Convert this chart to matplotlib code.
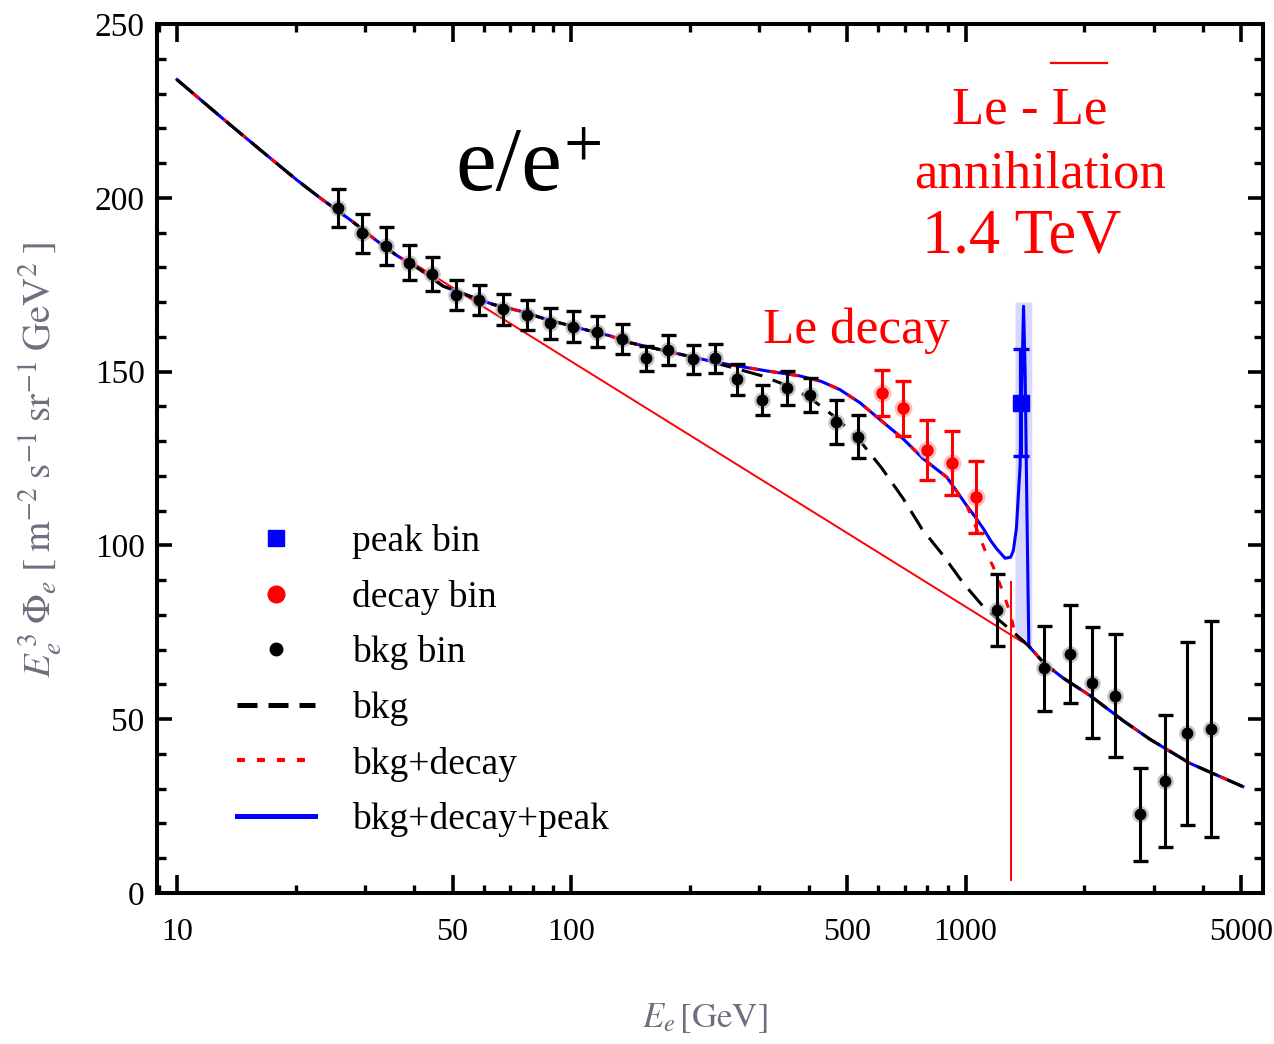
import matplotlib
matplotlib.use("Agg")
import matplotlib.pyplot as plt
from matplotlib.lines import Line2D
from matplotlib.ticker import FixedLocator, LogLocator, NullFormatter, FixedFormatter

plt.rcParams['font.family'] = ['Liberation Serif', 'DejaVu Serif']
plt.rcParams['mathtext.fontset'] = 'stix'

# ---------------- data ----------------
# background-only bins (energy in GeV, E^3 flux, symmetric error)
bkg_bin_E = [25.6, 29.4, 33.9, 38.8, 44.4, 50.9, 58.4, 67.0, 77.1, 88.3, 101.2,
             116, 134.3, 154.7, 176.2, 203.9, 231.4, 263.7, 304, 351.8, 403,
             468.4, 534.6, 1199, 1583, 1840, 2088, 2393, 2769, 3204, 3650, 4183]
bkg_bin_F = [197.0, 189.8, 186.1, 181.3, 178.0, 172.0, 170.6, 167.9, 166.3, 163.9,
             162.9, 161.5, 159.3, 153.8, 156.2, 153.5, 153.8, 147.8, 141.8, 145.2,
             143.3, 135.6, 131.3, 81.4, 64.6, 68.8, 60.5, 56.7, 22.6, 32.2, 45.9, 47.1]
bkg_bin_err = [5.5, 5.6, 5.5, 5.0, 4.9, 4.3, 4.3, 4.4, 4.4, 4.5, 4.5, 4.4, 4.3,
               3.7, 4.3, 4.2, 4.2, 4.4, 4.4, 4.9, 5.0, 6.3, 6.2, 10.3, 12.2, 14.0,
               15.9, 17.7, 13.5, 19.0, 26.2, 31.1]

# bins with a decay excess
decay_bin_E = [612.8, 695, 797, 922, 1063]
decay_bin_F = [143.8, 139.4, 127.4, 123.6, 114.0]
decay_bin_err = [6.7, 8.0, 8.6, 9.2, 10.4]

# annihilation peak bin
peak_bin_E = [1382]
peak_bin_F = [141.1]
peak_bin_err = [15.3]

# model curves
bkg_E = [10, 13, 16.5, 20.2, 23.05, 27.7, 31.8, 36.1, 41.3, 47.3, 55.3, 63.4, 74.2,
         86.6, 107.3, 125.3, 141, 188.7, 230, 263, 304, 352, 403, 468, 535, 612,
         695, 774, 877, 988, 1110, 1230, 1334, 1446, 1583, 1769, 2067, 2513, 2936,
         3707, 5047]
bkg_F = [234, 223, 213.2, 205.0, 200.0, 193.4, 188.0, 183.4, 179.4, 174.6, 171.7, 169.3,
         167.4, 165.0, 162.2, 160.3, 158.3, 155.0, 152.6, 150.8, 148.8, 146.0, 142.4,
         136.8, 130.6, 122.3, 113.4, 104.8, 97.1, 89.0, 82.3, 78.0, 74.6, 71.0, 66.0,
         61.8, 56.8, 49.5, 44.2, 37.3, 30.6]

decay_E = [10, 13, 16.5, 20.2, 23.05, 27.7, 31.8, 36.1, 41.3, 47.3, 55.3, 63.4, 74.2,
           86.6, 107.3, 125.3, 141, 188.7, 230, 258, 313, 378, 430, 480, 540, 618,
           695, 781, 896, 1007, 1060, 1120, 1174, 1242, 1298, 1334, 1446, 1583, 1769,
           2067, 2513, 2936, 3707, 5047]
decay_F = [234, 223, 213.2, 205.0, 200.0, 193.4, 188.0, 183.4, 179.4, 174.6, 171.7, 169.3,
           167.4, 165.0, 162.2, 160.3, 158.3, 155.0, 152.8, 151.8, 150.2, 148.8, 147.2,
           144.8, 141.0, 135.4, 130.6, 124.9, 119.6, 111.4, 105.5, 98.5, 93.9, 86.7,
           80.4, 74.6, 71.0, 66.0, 61.8, 56.8, 49.5, 44.2, 37.3, 30.6]

peak_E = [10, 13, 16.5, 20.2, 23.05, 27.7, 31.8, 36.1, 41.3, 47.3, 55.3, 63.4, 74.2,
          86.6, 107.3, 125.3, 141, 188.7, 230, 258, 313, 378, 430, 480, 540, 618,
          695, 781, 896, 1007, 1060, 1109, 1160, 1199, 1259, 1300, 1321, 1345, 1374,
          1390, 1402, 1415, 1430, 1446, 1583, 1769, 2067, 2513, 2936, 3707, 5047]
peak_F = [234, 223, 213.2, 205.0, 200.0, 193.4, 188.0, 183.4, 179.4, 174.6, 171.7, 169.3,
          167.4, 165.0, 162.2, 160.3, 158.3, 155.0, 152.8, 151.8, 150.2, 148.8, 147.2,
          144.8, 141.0, 135.4, 130.6, 124.9, 119.6, 111.4, 108.0, 104.8, 101.2, 99.0,
          96.3, 96.6, 98.5, 105.0, 122.9, 150.0, 168.8, 150.0, 110.0, 71.0, 66.0, 61.8,
          56.8, 49.5, 44.2, 37.3, 30.6]

# shaded band around the annihilation line
band_E = [1334, 1472]
band_lo = [74.6, 70.0]
band_hi = [170.0, 170.0]

# power-law guide line and threshold marker
guide_E = [40, 1388]
guide_F = [181.0, 72.3]
thresh_E = [1303, 1303]
thresh_F = [3.7, 89.5]

xticks = [10, 50, 100, 500, 1000, 5000]
xtick_labels = ['10', '50', '100', '500', '1000', '5000']
yticks = [0, 50, 100, 150, 200, 250]
ytick_labels = ['0', '50', '100', '150', '200', '250']

legend_labels = ['peak bin', 'decay bin', 'bkg bin', 'bkg', 'bkg+decay', 'bkg+decay+peak']

# ---------------- figure ----------------
W, H = 1274, 1044
fig = plt.figure(figsize=(W / 100, H / 100), dpi=100)
ax = fig.add_axes([157 / W, 1 - 893 / H, (1263 - 157) / W, (893 - 24) / H])

ax.set_xscale('log')
ax.set_xlim(8.9, 5675)
ax.set_ylim(0, 250)

ax.fill_between(band_E, band_lo, band_hi, color='#d8d8ff', lw=0, zorder=1)
ax.plot(peak_E, peak_F, color='#0000ff', lw=2.2, zorder=2, solid_joinstyle='round')
ax.plot(decay_E, decay_F, color='#ff0000', lw=2.2, dashes=(2.7, 4.0), zorder=3)
ax.plot(bkg_E, bkg_F, color='black', lw=2.2, dashes=(7, 3.6), zorder=4)

ax.plot(guide_E, guide_F, color='#ff0000', lw=1.4, zorder=2.5)
ax.plot(thresh_E, thresh_F, color='#ff0000', lw=1.4, zorder=2.5)

# data points with a soft halo
ax.plot(bkg_bin_E, bkg_bin_F, ls='none', marker='o', ms=11, color='#b0b0b0', alpha=0.6, zorder=5)
ax.errorbar(bkg_bin_E, bkg_bin_F, yerr=bkg_bin_err, fmt='o', ms=7.5, color='black',
            ecolor='black', elinewidth=2.2, capsize=5.4, capthick=2.4, zorder=6)

ax.plot(decay_bin_E, decay_bin_F, ls='none', marker='o', ms=12, color='#ffb0b0', alpha=0.7, zorder=5)
ax.errorbar(decay_bin_E, decay_bin_F, yerr=decay_bin_err, fmt='o', ms=8, color='#ff0000',
            ecolor='#ff0000', elinewidth=2.2, capsize=6, capthick=2.4, zorder=6)

ax.errorbar(peak_bin_E, peak_bin_F, yerr=peak_bin_err, fmt='s', ms=11, color='#0000ff',
            ecolor='#0000ff', elinewidth=3, capsize=6, capthick=2.4, zorder=6)

# axes styling
for sp in ax.spines.values():
    sp.set_linewidth(2.9)
ax.xaxis.set_major_locator(FixedLocator(xticks))
ax.xaxis.set_major_formatter(FixedFormatter(xtick_labels))
ax.xaxis.set_minor_locator(LogLocator(base=10, subs=[2, 3, 4, 5, 6, 7, 8, 9]))
ax.xaxis.set_minor_formatter(NullFormatter())
ax.yaxis.set_major_locator(FixedLocator(yticks))
ax.yaxis.set_major_formatter(FixedFormatter(ytick_labels))
ax.yaxis.set_minor_locator(FixedLocator(list(range(0, 251, 10))))
ax.tick_params(which='both', direction='in', top=True, right=True)
ax.tick_params(axis='x', which='major', length=13, width=2.6, pad=18, labelsize=23)
ax.tick_params(axis='x', which='minor', length=5.5, width=2.4)
ax.tick_params(axis='y', which='major', length=10.5, width=2.6, pad=9, labelsize=24)
ax.tick_params(axis='y', which='minor', length=6.8, width=2.4)

label_color = '#6e6e80'
fig.text(40 / W, 1 - 460 / H,
         r'$E_e^{\,3}\;\Phi_e\;[\;\mathrm{m}^{-2}\;\mathrm{s}^{-1}\;\mathrm{sr}^{-1}\;\mathrm{GeV}^{2}\;]$',
         rotation=90, ha='center', va='center', fontsize=28, color=label_color)
fig.text(705 / W, 1 - 1018 / H, r'$E_e\,[\mathrm{GeV}]$', ha='center', va='center',
         fontsize=25, color=label_color)

# annotations
fig.text(455 / W, 1 - 190 / H, 'e/e', fontsize=66, color='black',
         ha='left', va='baseline')
fig.text(583 / W, 1 - 150 / H, '+', fontsize=50, color='black',
         ha='center', va='center')
fig.text(763 / W, 1 - 343 / H, 'Le decay', fontsize=37, color='#ff0000',
         ha='left', va='baseline')
fig.text(1030 / W, 1 - 123 / H, 'Le - Le', fontsize=38, color='#ff0000',
         ha='center', va='baseline')
fig.add_artist(Line2D([1051 / W, 1107 / W], [1 - 63 / H, 1 - 63 / H],
                      color='#ff0000', lw=1.6, transform=fig.transFigure))
fig.text(1040 / W, 1 - 187 / H, 'annihilation', fontsize=38, color='#ff0000',
         ha='center', va='baseline')
fig.text(1022 / W, 1 - 253 / H, '1.4 TeV', fontsize=45, color='#ff0000',
         ha='center', va='baseline')

# legend
handles = [
    Line2D([], [], ls='none', marker='s', ms=11, color='#0000ff'),
    Line2D([], [], ls='none', marker='o', ms=12, color='#ff0000'),
    Line2D([], [], ls='none', marker='o', ms=9, color='black'),
    Line2D([], [], color='black', lw=3.6, dashes=(4, 2.2)),
    Line2D([], [], color='#ff0000', lw=3.0, dashes=(1.9, 2.9)),
    Line2D([], [], color='#0000ff', lw=3.6),
]
ax.legend(handles, legend_labels, loc='upper left', frameon=False, fontsize=27,
          bbox_to_anchor=(237 / W, 1 - 524 / H), bbox_transform=fig.transFigure,
          borderaxespad=0, borderpad=0, handlelength=2.08, handletextpad=1.0,
          labelspacing=0.55)

fig.savefig('out.png', dpi=100)
